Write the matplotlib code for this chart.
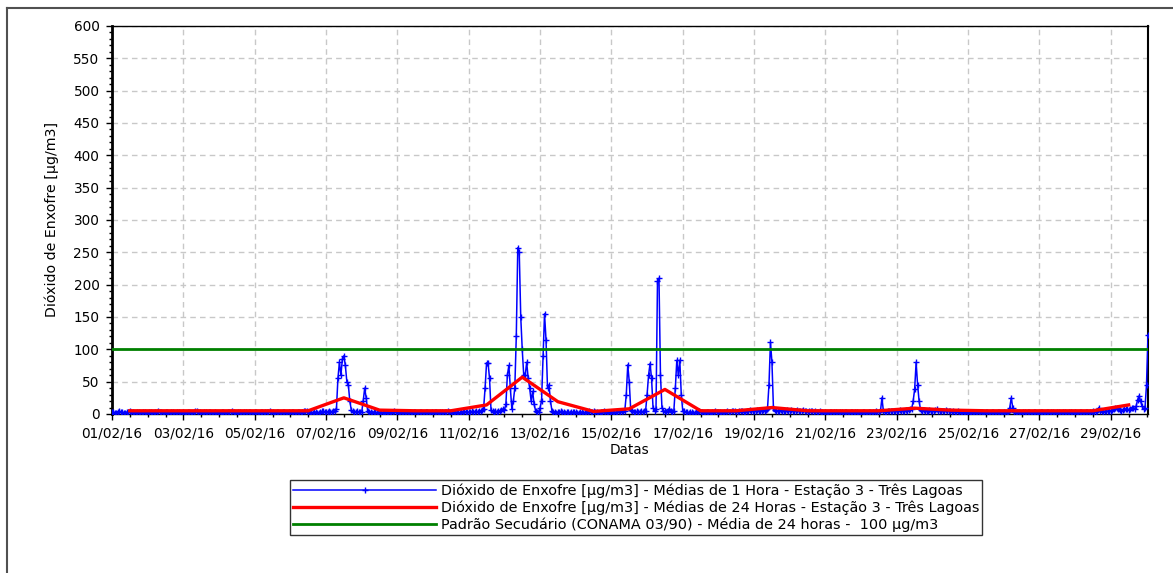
import pandas as pd
import matplotlib
matplotlib.use("Agg")
import matplotlib.pyplot as plt
import matplotlib.dates as mdates
from matplotlib.lines import Line2D
from matplotlib.ticker import MultipleLocator

# médias de 1 hora, SO2 [ug/m3], uma linha por dia de fevereiro/2016 (00h..23h)
so2_1h_fev = [
    [3,3,2,2,3,4,3,3,2,2,3,3,4,3,3,2,2,3,3,2,2,3,3,2],          # 01
    [2,3,3,2,2,3,3,4,3,3,2,2,3,3,2,2,3,3,2,2,3,3,2,2],          # 02
    [3,2,2,3,3,2,2,3,4,4,3,3,2,2,3,3,2,3,3,2,2,3,2,2],          # 03
    [2,2,3,3,2,2,3,3,3,4,3,2,2,3,3,2,2,3,3,2,3,3,2,2],          # 04
    [3,3,2,2,3,3,2,3,3,3,4,3,3,2,2,3,3,2,2,3,3,2,2,3],          # 05
    [2,3,3,2,2,3,3,2,3,4,5,4,3,3,2,2,3,3,2,2,3,4,4,3],          # 06
    [3,3,4,3,3,4,5,8,55,80,60,85,90,75,50,45,20,6,4,3,3,4,3,3], # 07
    [3,20,40,25,5,3,3,2,3,3,2,2,3,3,2,2,3,3,2,2,3,3,5,3],       # 08
    [3,2,2,3,3,2,2,3,3,2,2,3,3,2,2,3,3,2,2,3,3,2,2,3],          # 09
    [2,3,3,2,2,3,3,2,3,3,4,3,3,2,2,3,3,2,2,3,3,4,3,3],          # 10
    [3,3,4,3,3,4,3,4,5,6,8,40,79,79,55,6,4,3,4,3,4,5,6,8],      # 11
    [6,15,60,75,40,8,20,40,120,257,250,150,100,60,60,80,55,40,20,35,15,5,3,3],  # 12
    [10,20,90,155,115,40,45,20,5,3,3,2,3,3,4,3,3,2,3,3,2,3,3,3],  # 13
    [3,2,2,3,3,2,2,3,3,4,3,3,4,3,3,2,2,3,3,4,3,3,2,3],          # 14
    [3,3,2,3,3,4,3,3,4,5,30,76,50,6,4,3,3,4,3,3,4,3,4,5],       # 15
    [30,60,78,55,10,5,8,205,210,60,10,5,4,3,5,8,4,3,5,40,83,60,83,30],  # 16
    [5,4,3,3,2,3,3,2,2,3,3,4,3,3,2,2,3,3,2,2,3,3,4,3],          # 17
    [3,3,2,2,3,3,4,3,3,4,5,4,3,3,4,5,4,3,3,4,5,6,5,4],          # 18
    [4,5,6,5,4,5,6,5,6,8,45,111,80,10,6,5,4,5,6,5,4,5,6,5],     # 19
    [5,6,5,4,5,6,5,4,5,6,5,4,3,4,5,4,3,4,3,3,4,3,3,2],          # 20
    [3,2,2,3,3,2,3,3,2,2,3,3,2,3,3,2,2,3,3,2,3,3,2,2],          # 21
    [2,3,3,2,2,3,3,2,3,3,4,3,3,4,25,4,3,3,4,4,5,4,5,4],         # 22
    [4,5,6,5,4,5,6,5,6,7,8,20,38,80,45,20,6,5,6,5,4,5,6,5],     # 23
    [4,5,6,8,5,4,5,4,5,6,5,4,4,3,4,3,3,4,3,3,2,3,3,2],          # 24
    [2,3,3,2,2,3,3,2,3,3,2,2,3,3,2,2,3,3,2,2,3,3,2,2],          # 25
    [3,2,2,3,10,25,10,3,2,3,3,2,2,3,3,2,3,3,2,2,3,3,2,2],       # 26
    [2,3,3,2,2,3,3,2,3,3,2,2,3,3,2,2,3,3,2,2,3,3,2,2],          # 27
    [3,2,2,3,3,2,2,3,3,2,3,3,4,3,3,4,10,5,4,3,4,5,4,5],         # 28
    [5,6,8,10,9,7,6,5,6,7,8,7,6,8,10,9,8,12,22,28,20,12,8,10],  # 29
]
so2_1h_mar = [45, 122]  # 01/03 00h, 01h

# médias de 24 horas (plotadas ao meio-dia de cada dia)
so2_24h = [5,5,5,5,5,5,25,6,5,5,14,57,19,4,8,38,5,5,10,5,5,5,9,6,5,5,5,5,14]

padrao_conama = 100

lbl_1h = "Dióxido de Enxofre [µg/m3] - Médias de 1 Hora - Estação 3 - Três Lagoas"
lbl_24h = "Dióxido de Enxofre [µg/m3] - Médias de 24 Horas - Estação 3 - Três Lagoas"
lbl_pad = "Padrão Secudário (CONAMA 03/90) - Média de 24 horas -  100 µg/m3"

valores_1h = [v for dia in so2_1h_fev for v in dia] + so2_1h_mar
t_1h = pd.date_range("2016-02-01 00:00", periods=len(valores_1h), freq="h")
t_24h = pd.date_range("2016-02-01 12:00", periods=len(so2_24h), freq="D")
t_ticks = pd.date_range("2016-02-01", "2016-02-29", freq="2D")

plt.rcParams["font.family"] = "DejaVu Sans"
plt.rcParams["font.size"] = 9.8

fig = plt.figure(figsize=(11.73, 5.73), dpi=100)
ax = fig.add_axes([0.09548, 0.27749, 0.8832, 0.67714])

ax.plot(t_1h, valores_1h, color="#0000ff", lw=1.1, marker="+", ms=5, mew=1,
        label=lbl_1h, zorder=3)
ax.plot(t_24h, so2_24h, color="#ff0000", lw=2.4, label=lbl_24h, zorder=4)
ax.axhline(padrao_conama, color="#008000", lw=2.0, label=lbl_pad, zorder=5)

ax.set_ylim(0, 600)
ax.set_xlim(t_1h[0], t_1h[-1])
ax.yaxis.set_major_locator(MultipleLocator(50))
ax.yaxis.set_minor_locator(MultipleLocator(10))
ax.set_xticks(t_ticks)
ax.xaxis.set_major_formatter(mdates.DateFormatter("%d/%m/%y"))
ax.xaxis.set_minor_locator(mdates.HourLocator(byhour=[0, 12]))

ax.tick_params(which="major", direction="out", length=4, width=1, pad=5)
ax.tick_params(which="minor", direction="out", length=2, width=1)
ax.grid(which="major", color="#c8c8c8", linestyle=(0, (4, 3)), lw=1)
ax.set_axisbelow(True)

ax.spines["left"].set_linewidth(2)
ax.spines["right"].set_linewidth(1.5)
ax.spines["top"].set_linewidth(1)
ax.spines["bottom"].set_linewidth(1)

ax.set_xlabel("Datas", labelpad=2)
ax.set_ylabel("Dióxido de Enxofre [µg/m3]", labelpad=10, fontsize=10.2)

leg = ax.legend(loc="upper left", bbox_to_anchor=(290/1173, 1-480/573),
                bbox_transform=fig.transFigure, borderaxespad=0, handlelength=9.9,
                handletextpad=0.3, labelspacing=0.18, borderpad=0.22,
                fancybox=False, frameon=True, edgecolor="black", fontsize=10.4)
leg.get_frame().set_linewidth(1)

# moldura externa
fig.add_artist(Line2D([7/1173, 1], [1-8/573, 1-8/573], transform=fig.transFigure,
                      color="#505050", lw=1.5))
fig.add_artist(Line2D([7/1173, 7/1173], [0, 1-8/573], transform=fig.transFigure,
                      color="#505050", lw=1.5))

fig.savefig("out.png", dpi=100)
